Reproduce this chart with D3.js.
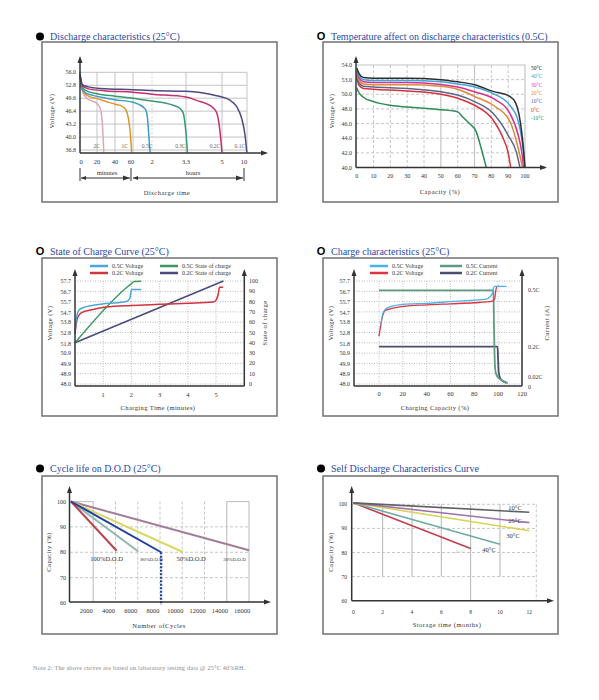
<!DOCTYPE html>
<html>
<head>
<meta charset="utf-8">
<script src="https://cdn.jsdelivr.net/npm/d3@7"></script>
<style>
body { margin: 0; background: #fff; }
text { font-family: "Liberation Serif", "DejaVu Serif", serif; }
</style>
</head>
<body>
<div id="chartDiv"></div>
<script>
// ---- Discharge characteristics (25C) : minutes vs volts
var dischargeTickMin = [0, 20, 40, 60, 120, 198, 300, 600];
var dischargeTickLabels = ["0", "20", "40", "60", "2", "3.3", "5", "10"];
var dischargeVoltTicks = [36.8, 40.0, 43.2, 46.4, 49.6, 52.8, 56.0];
var dischargeRates = ["2C", "1C", "0.5C", "0.3C", "0.2C", "0.1C"];
var discharge2C = [[0, 55.8], [1, 53.0], [3, 51.2], [8, 49.6], [14, 48.9], [20, 48.3], [23.5, 47.1], [25.5, 44.6], [26.7, 40.5], [27.5, 36.2]];
var discharge1C = [[0, 55.4], [2, 52.2], [5, 50.9], [10, 50.1], [20, 49.5], [30, 48.8], [40, 48.1], [48, 47.6], [52, 46.8], [55, 44.5], [57, 41.0], [58.5, 36.2]];
var discharge05C = [[0, 56.2], [2, 52.2], [6, 51.0], [15, 50.3], [30, 49.6], [40, 49.2], [60, 48.6], [80, 48.0], [95, 47.2], [102, 46.4], [106, 44.5], [109, 41.5], [112, 38.0], [114, 36.2]];
var discharge03C = [[0, 55.6], [2, 52.6], [6, 51.6], [20, 50.7], [40, 50.1], [60, 49.6], [90, 49.2], [120, 48.9], [150, 48.4], [170, 47.8], [185, 47.0], [192, 45.8], [196, 43.0], [199, 40.0], [201, 37.5], [202, 36.2]];
var discharge02C = [[0, 55.0], [3, 52.6], [10, 51.9], [30, 51.4], [60, 51.1], [120, 50.6], [198, 49.9], [230, 49.0], [257, 48.2], [275, 47.2], [285, 46.0], [292, 43.0], [296, 40.0], [299, 37.2], [300, 36.2]];
var discharge01C = [[0, 55.4], [3, 52.9], [10, 52.4], [24, 52.0], [60, 51.7], [114, 51.5], [198, 51.3], [238, 51.0], [285, 50.2], [396, 49.1], [476, 47.5], [536, 44.6], [576, 40.5], [598, 36.2]];

// ---- Temperature affect on discharge (0.5C) : capacity % vs volts
var tempLabels = ["50°C", "40°C", "30°C", "20°C", "10°C", "0°C", "-10°C"];
var tempVoltTicks = [40, 42, 44, 46, 48, 50, 52, 54];
var tempVoltLabels = ["40.0", "42.0", "44.0", "46.0", "48.0", "50.0", "53.0", "54.0"];
var tempCapTicks = [0, 10, 20, 30, 40, 50, 60, 70, 80, 90, 100];
var temp50 = [[0, 53.6], [1.5, 52.8], [4, 52.3], [10, 52.2], [30, 52.2], [50, 52.0], [60, 51.7], [70, 51.3], [81, 50.4], [91, 49.7], [94.5, 48.8], [96.5, 47.2], [98, 44.9], [99.2, 42.3], [100, 40]];
var temp40 = [[0, 53.3], [1.5, 52.5], [4, 52.0], [10, 51.9], [30, 51.9], [50, 51.7], [60, 51.4], [70, 51.0], [81, 50.1], [91, 48.5], [96, 46.3], [98, 44.0], [99, 42.2], [99.8, 40]];
var temp30 = [[0, 53.0], [1.5, 52.2], [4, 51.7], [10, 51.6], [30, 51.6], [50, 51.35], [60, 51.0], [70, 50.35], [81, 49.45], [91, 47.4], [96, 44.4], [98, 42.2], [99.2, 40]];
var temp20 = [[0, 52.8], [1.5, 51.9], [4, 51.4], [10, 51.3], [30, 51.3], [50, 51.1], [60, 50.7], [70, 49.7], [81, 48.5], [91, 46.3], [96, 42.6], [98.5, 40]];
var temp10 = [[0, 52.5], [1.5, 51.5], [4, 51.1], [10, 51.0], [30, 50.8], [50, 50.35], [60, 49.9], [70, 49.0], [81, 47.4], [90, 44.4], [95, 42.0], [97, 40]];
var temp0 = [[0, 52.2], [1.5, 51.2], [4, 50.8], [10, 50.7], [30, 50.45], [50, 50.0], [60, 49.45], [70, 48.5], [81, 46.5], [87, 44.0], [90, 42.0], [91.5, 40]];
var tempM10 = [[0, 50.9], [1, 50.35], [4, 49.6], [10, 49.0], [20, 48.5], [30, 48.25], [40, 48.1], [50, 47.9], [60, 47.6], [63, 46.9], [67, 46.0], [71, 44.9], [74, 42.6], [77, 40]];

// ---- shared voltage ticks for the two charge charts
var chargeVoltLabels = [48.0, 48.9, 49.9, 50.9, 51.8, 52.8, 53.8, 54.7, 55.7, 56.7, 57.7];

// ---- State of charge curve (25C) : minutes
var socTimeTicks = [1, 2, 3, 4, 5];
var socPctTicks = [0, 10, 20, 30, 40, 50, 60, 70, 80, 90, 100];
var socSeriesNames = ["0.5C Voltage", "0.2C Voltage", "0.5C State of charge", "0.2C State of charge"];
var soc05Voltage = [[0, 52.7], [0.03, 53.8], [0.08, 54.6], [0.15, 55.0], [0.3, 55.2], [0.6, 55.4], [1.0, 55.55], [1.5, 55.65], [1.85, 55.8], [1.95, 56.1], [2.0, 56.9], [2.35, 56.9]];
var soc02Voltage = [[0, 52.7], [0.05, 53.8], [0.12, 54.4], [0.25, 54.75], [0.6, 55.0], [1.1, 55.25], [2, 55.4], [3, 55.5], [4, 55.6], [4.9, 55.72], [5.0, 55.9], [5.08, 56.5], [5.12, 57.1], [5.25, 57.1]];
var soc05Charge = [[0, 40], [1.8, 93], [2.0, 97.5], [2.1, 99.5], [2.35, 99.7]];
var soc02Charge = [[0, 40], [5.26, 100]];

// ---- Charge characteristics (25C) : capacity %
var chgCapTicks = [0, 20, 40, 60, 80, 100, 120];
var chgCurrentTicks = [0, 0.02, 0.2, 0.5];
var chgCurrentLabels = ["0", "0.02C", "0.2C", "0.5C"];
var chgSeriesNames = ["0.5C Voltage", "0.2C Voltage", "0.5C Current", "0.2C Current"];
var chg05Voltage = [[1.5, 53.5], [3, 54.5], [5, 55.0], [10, 55.3], [20, 55.5], [40, 55.6], [60, 55.75], [80, 55.9], [90, 56.0], [93, 56.2], [95, 56.5], [96, 57.0], [97, 57.2], [107, 57.2]];
var chg02Voltage = [[0, 52.5], [1.5, 53.6], [3, 54.4], [5, 54.9], [10, 55.1], [20, 55.3], [40, 55.45], [60, 55.55], [80, 55.65], [95, 55.8], [97, 56.0], [98, 56.8], [99, 57.2], [101, 57.2]];
var chg05Current = [[0, 0.5], [96, 0.5], [96.5, 0.3], [97, 0.15], [97.5, 0.08], [98.5, 0.05], [100, 0.035], [103, 0.02], [106, 0.01], [108, 0.005]];
var chg02Current = [[0, 0.2], [99.5, 0.2], [100, 0.12], [100.5, 0.06], [101.5, 0.035], [103, 0.02], [105, 0.012], [107, 0.006]];

// ---- Cycle life on D.O.D (25C)
var cycleTicks = [2000, 4000, 6000, 8000, 10000, 12000, 14000, 16000];
var cycleCapTicks = [60, 70, 80, 90, 100];
var dodLabels = ["100%D.O.D", "80%D.O.D", "50%D.O.D", "30%D.O.D"];
var dod100 = [[0, 100], [4100, 80.6]];
var dod80 = [[0, 100], [6050, 80.3]];
var dod70 = [[0, 100], [8100, 80.0]];
var dod50 = [[0, 100], [10050, 80.1]];
var dod30 = [[0, 100], [16000, 80.8]];

// ---- Self discharge : months
var storageTicks = [0, 2, 4, 6, 8, 10, 12];
var storageCapTicks = [60, 70, 80, 90, 100];
var storageLabels = ["10°C", "25°C", "30°C", "40°C", "45°C"];
var sd10 = [[0, 100.6], [12, 96.7]];
var sd25 = [[0, 100.6], [12, 92.4]];
var sd30 = [[0, 100.6], [12, 89.0]];
var sd40 = [[0, 100.6], [10, 83.4]];
var sd45 = [[0, 100.6], [8, 81.7]];

var footNote = "Note 2: The above curves are based on laboratory testing data @ 25°C 40%RH.";

var axisColor = "#333";
var gridColor = "#b9b9b9";
var titleColor = "#2a4aa6";

var svg = d3.select("#chartDiv").append("svg")
	.attr("width", 599)
	.attr("height", 700)
	.style("background", "#fff");

//helpers
function frame(x0, y0, x1, y1) {
	svg.append("rect")
		.attr("x", x0).attr("y", y0)
		.attr("width", x1 - x0).attr("height", y1 - y0)
		.attr("fill", "none")
		.attr("stroke", "#707070")
		.attr("stroke-width", 1.5);
}

function title(x, y, marker, str) {
	if (marker == "dot") {
		svg.append("circle").attr("cx", x).attr("cy", y - 3.5).attr("r", 4).attr("fill", "#000");
	} else {
		svg.append("text").attr("x", x).attr("y", y)
			.attr("text-anchor", "middle")
			.style("font-family", "'Liberation Sans', Arial, sans-serif")
			.style("font-weight", "bold")
			.style("font-size", "11px")
			.text("O");
	}
	svg.append("text").attr("x", x + 10).attr("y", y)
		.style("font-size", "10px")
		.attr("fill", titleColor)
		.text(str);
}

function label(x, y, str, size, anchor, color) {
	return svg.append("text").attr("x", x).attr("y", y)
		.attr("text-anchor", anchor || "middle")
		.style("font-size", (size || 6) + "px")
		.attr("fill", color || "#333")
		.text(str);
}

function vLabel(x, y, str) {
	svg.append("text")
		.attr("transform", "translate(" + x + "," + y + ") rotate(-90)")
		.attr("text-anchor", "middle")
		.style("font-size", "6.5px")
		.style("letter-spacing", "0.4px")
		.attr("fill", "#333")
		.text(str);
}

function seg(x1, y1, x2, y2, color, w, dash) {
	svg.append("line")
		.attr("x1", x1).attr("y1", y1).attr("x2", x2).attr("y2", y2)
		.attr("stroke", color).attr("stroke-width", w)
		.attr("stroke-dasharray", dash || null);
}

function arrowUp(x, y) {
	svg.append("path").attr("d", "M" + (x - 2.5) + "," + (y + 7) + "L" + x + "," + y + "L" + (x + 2.5) + "," + (y + 7) + "Z").attr("fill", axisColor);
}
function arrowRight(x, y) {
	svg.append("path").attr("d", "M" + (x - 7) + "," + (y - 2.5) + "L" + x + "," + y + "L" + (x - 7) + "," + (y + 2.5) + "Z").attr("fill", axisColor);
}
function arrowLeft(x, y) {
	svg.append("path").attr("d", "M" + (x + 5) + "," + (y - 2) + "L" + x + "," + y + "L" + (x + 5) + "," + (y + 2) + "Z").attr("fill", axisColor);
}

function curve(pts, xs, ys, color, w, kind) {
	svg.append("path").datum(pts)
		.attr("fill", "none")
		.attr("stroke", color)
		.attr("stroke-width", w)
		.attr("stroke-linejoin", "round")
		.attr("d", d3.line()
			.x(function(d) { return xs(d[0]); })
			.y(function(d) { return ys(d[1]); })
			.curve(kind || d3.curveMonotoneX));
}

// ================= Panel 1
frame(42, 42, 277, 202);
title(40, 40, "dot", "Discharge characteristics (25°C)");

var x1 = d3.scaleLinear().domain(dischargeTickMin).range([80, 97, 115, 133, 152, 186, 222, 247]);
var y1 = d3.scaleLinear().domain([36.8, 56.0]).range([150, 72.3]);

dischargeVoltTicks.forEach(function(v) {
	seg(80, y1(v), x1(600), y1(v), "#c4c4c4", 1);
	label(76, y1(v) + 2, v.toFixed(1), 6, "end");
});
dischargeTickMin.forEach(function(m, i) {
	if (m > 0) seg(x1(m), y1(56), x1(m), 153, m == 120 ? "#cfcfcf" : "#c4c4c4", 1, m == 120 ? "2,2" : null);
	label(x1(m) + (i == 0 ? 1 : i == 3 ? -2 : i == 7 ? -3 : 0), 164, dischargeTickLabels[i], 6.5);
});

var dischargeColors = ["#dcaab2", "#e0952a", "#3d9bc6", "#3a9a72", "#c2306e", "#4c4a80"];
[discharge2C, discharge1C, discharge05C, discharge03C, discharge02C, discharge01C].forEach(function(s, i) {
	curve(s, x1, y1, dischargeColors[i], 1.5);
	var last = s[s.length - 1];
	label(x1(last[0]) - (i == 2 ? 3 : 7), 148, dischargeRates[i], 5.5, "middle", "#666");
});

seg(80, 153, 266, 153, axisColor, 1.5);
seg(80, 153, 80, 58, axisColor, 1.5);
arrowUp(80, 56);
arrowRight(268, 153);

// minutes / hours bracket
seg(80, 168, 80, 181, axisColor, 1);
seg(131, 168, 131, 181, axisColor, 1);
seg(244, 168, 244, 181, axisColor, 1);
seg(81, 178, 130, 178, axisColor, 1);
seg(133, 178, 243, 178, axisColor, 1);
arrowLeft(81, 178);
arrowRight(130, 178);
arrowLeft(133, 178);
arrowRight(243, 178);
label(107, 175, "minutes", 6.5);
label(193, 175, "hours", 6.5);
label(167, 195, "Discharge time", 6.5).style("letter-spacing", "0.5px");
vLabel(54, 111, "Voltage (V)");

// ================= Panel 2
frame(323, 42, 558, 202);
title(321, 40, "O", "Temperature affect on discharge characteristics (0.5C)");

var x2 = d3.scaleLinear().domain([0, 100]).range([356.7, 525]);
var y2 = d3.scaleLinear().domain([40, 54]).range([167.5, 65]);

tempVoltTicks.forEach(function(v, i) {
	if (v == 54) seg(356, y2(v), x2(100), y2(v), "#c4c4c4", 1.2);
	else if (v > 40) seg(356, y2(v), x2(100), y2(v), gridColor, 0.8, "3,2");
	label(352, y2(v) + 2, tempVoltLabels[i], 6, "end");
});
tempCapTicks.forEach(function(c) {
	if (c > 0) {
		var solid = (c == 50 || c == 70 || c == 100);
		seg(x2(c), y2(54), x2(c), y2(40), solid ? "#c4c4c4" : gridColor, solid ? 1.2 : 0.8, solid ? null : "3,2");
	}
	label(x2(c), 178, c, 6);
});

var tempColors = ["#2e2e2e", "#3ea4d8", "#d6318f", "#dc8a3c", "#5e6488", "#d8323c", "#2f8c55"];
var tempLabelColors = ["#222", "#3ea4d8", "#d63fbd", "#e08a30", "#5a5ab8", "#e03030", "#2f8c55"];
[tempM10, temp0, temp10, temp20, temp30, temp40, temp50].forEach(function(s, i) {
	curve(s, x2, y2, tempColors[6 - i], 1.5);
});
tempLabels.forEach(function(t, i) {
	label(531, 70 + i * 8.3, t, 5.5, "start", tempLabelColors[i]);
});

seg(356, 167.5, 545, 167.5, axisColor, 1.5);
seg(356, 167.5, 356, 58, axisColor, 1.5);
arrowUp(356, 56);
arrowRight(547, 167.5);
label(440, 194, "Capacity (%)", 6.5).style("letter-spacing", "0.5px");
vLabel(334, 111, "Voltage (V)");

// ================= Panel 3
frame(42, 258, 277, 416);
title(40, 254.5, "O", "State of Charge Curve (25°C)");

var x3 = d3.scaleLinear().domain([0, 6]).range([75, 244.3]);
var y3v = d3.scaleLinear().domain([48.0, 57.7]).range([384, 281]);
var y3s = d3.scaleLinear().domain([0, 100]).range([384, 281]);

socPctTicks.forEach(function(p) {
	seg(75, y3s(p), 244, y3s(p), "#a8a8a8", 0.8, "1,1.5");
	label(249, y3s(p) + 2, p, 6, "start");
});
chargeVoltLabels.forEach(function(v) {
	label(71, y3v(v) + 2, v.toFixed(1), 6, "end");
});
socTimeTicks.forEach(function(t) {
	seg(x3(t), y3s(100), x3(t), 384, "#b0b0b0", 0.8, "1,1.5");
	label(x3(t), 397, t, 6.5);
});

var socColors = ["#4aa8d8", "#d0343f", "#3a9a62", "#4a4a7c"];
curve(soc02Charge, x3, y3s, socColors[3], 1.5, d3.curveLinear);
curve(soc05Charge, x3, y3s, socColors[2], 1.5);
curve(soc02Voltage, x3, y3v, socColors[1], 1.5);
curve(soc05Voltage, x3, y3v, socColors[0], 1.5);

socSeriesNames.forEach(function(n, i) {
	var lx = i < 2 ? 90 : 160;
	var ly = i % 2 == 0 ? 266 : 273;
	seg(lx, ly, lx + 18, ly, socColors[i], 2.5);
	label(lx + 22, ly + 2, n, 6, "start");
});

seg(75, 386, 244.3, 386, axisColor, 1.5);
seg(75, 386, 75, 272, axisColor, 1.5);
seg(244.3, 386, 244.3, 272, axisColor, 1.5);
arrowUp(75, 269);
arrowUp(244.3, 269);
label(158, 410, "Charging Time (minutes)", 6.5).style("letter-spacing", "0.4px");
vLabel(52, 323, "Voltage (V)");
vLabel(267, 323, "State of charge");

// ================= Panel 4
frame(323, 258, 558, 416);
title(321, 254.5, "O", "Charge characteristics (25°C)");

var x4 = d3.scaleLinear().domain([0, 120]).range([379, 522]);
var y4v = d3.scaleLinear().domain([48.0, 57.7]).range([384, 281]);
var y4c = d3.scaleLinear().domain([0, 0.55]).range([384, 281]);

socPctTicks.forEach(function(p) {
	seg(354, y3s(p), 522, y3s(p), "#a8a8a8", 0.8, "1,1.5");
});
chargeVoltLabels.forEach(function(v) {
	label(350, y4v(v) + 2, v.toFixed(1), 6, "end");
});
chgCapTicks.forEach(function(c) {
	if (c < 120) seg(x4(c), y4v(57.7), x4(c), 384, "#b0b0b0", 0.8, "1,1.5");
	label(x4(c), 396, c, 6.5);
});
chgCurrentTicks.forEach(function(c, i) {
	var dy = c == 0 ? 5 : c == 0.02 ? -1 : 2;
	label(528, y4c(c) + dy, chgCurrentLabels[i], 6, "start");
});

var chgColors = ["#4ab2ea", "#e0343f", "#5f9a7e", "#4a4e6e"];
curve(chg02Current, x4, y4c, chgColors[3], 1.8);
curve(chg05Current, x4, y4c, chgColors[2], 1.8);
curve(chg02Voltage, x4, y4v, chgColors[1], 1.3);
curve(chg05Voltage, x4, y4v, chgColors[0], 1.3);

chgSeriesNames.forEach(function(n, i) {
	var lx = i < 2 ? 370 : 440;
	var ly = i % 2 == 0 ? 266 : 273;
	seg(lx, ly, lx + (i < 2 ? 18 : 22), ly, chgColors[i], 2.5);
	label(lx + (i < 2 ? 22 : 26), ly + 2, n, 6, "start");
});

seg(354, 386, 522, 386, axisColor, 1.5);
seg(354, 386, 354, 272, axisColor, 1.5);
seg(522, 386, 522, 272, axisColor, 1.5);
arrowUp(354, 269);
arrowUp(522, 269);
label(435, 410, "Charging Capacity (%)", 6.5).style("letter-spacing", "0.4px");
vLabel(333, 323, "Voltage (V)");
vLabel(549, 323, "Current (A)");

// ================= Panel 5
frame(42, 476, 277, 634);
title(40, 472, "dot", "Cycle life on D.O.D (25°C)");

var x5 = d3.scaleLinear().domain([0, 16000]).range([71, 249]);
var y5 = d3.scaleLinear().domain([60, 100]).range([603, 501.5]);

cycleCapTicks.forEach(function(c) {
	if (c > 60 && c < 100) seg(70, y5(c), x5(16000), y5(c), gridColor, 0.8, "3,2");
	label(66, y5(c) + 2, c, 6, "end");
});
seg(70, y5(100), x5(2000), y5(100), "#c4c4c4", 1.2);
seg(x5(14000), y5(100), x5(16000), y5(100), "#c4c4c4", 1.2);
cycleTicks.forEach(function(c) {
	var solid = (c == 2000 || c == 14000 || c == 16000);
	seg(x5(c), y5(100), x5(c), 602, solid ? "#c4c4c4" : gridColor, solid ? 1.2 : 0.8, solid ? null : "3,2");
	label(x5(c) - 7, 613, c, 6.5);
});

var dodColors = ["#b8434f", "#8fb8ae", "#1f3f9e", "#d9d865", "#a27e96"];
curve(dod30, x5, y5, dodColors[4], 2, d3.curveLinear);
curve(dod50, x5, y5, dodColors[3], 2, d3.curveLinear);
curve(dod80, x5, y5, dodColors[1], 2, d3.curveLinear);
curve(dod100, x5, y5, dodColors[0], 2, d3.curveLinear);
curve(dod70, x5, y5, dodColors[2], 2, d3.curveLinear);
seg(x5(8100), y5(80), x5(8100), 605, dodColors[2], 2.2, "2,1.5");

label(x5(3200), 561, dodLabels[0], 6.5);
label(x5(7250), 561, dodLabels[1], 5);
label(x5(10800), 561, dodLabels[2], 6.5);
label(x5(14700), 561, dodLabels[3], 5);

seg(69.5, 602, 268, 602, axisColor, 1.5);
seg(69.5, 602, 69.5, 489, axisColor, 1.5);
arrowUp(69.5, 486);
arrowRight(271, 602);
label(159, 628, "Number ofCycles", 6.5).style("letter-spacing", "0.5px");
vLabel(51, 552, "Capacity (%)");

// ================= Panel 6
frame(323, 476, 558, 634);
title(321, 472, "dot", "Self Discharge Characteristics Curve");

var x6 = d3.scaleLinear().domain([0, 12]).range([353.3, 529.3]);
var y6 = d3.scaleLinear().domain([60, 100]).range([600.7, 504.3]);
var right6 = x6(12) + 7;

storageCapTicks.forEach(function(c) {
	if (c > 60) seg(352, y6(c), right6, y6(c), gridColor, 0.8, "3,2");
	label(347, y6(c) + 2, c, 5.5, "end");
});
[2, 4, 6, 8, 10].forEach(function(m) {
	seg(x6(m), y6(100), x6(m), m == 8 ? 600.7 : y6(70), "#b4b4b4", 1);
});
seg(right6, y6(100), right6, 600.7, gridColor, 0.8, "3,2");
storageTicks.forEach(function(m) {
	label(x6(m), 614, m, 5.5);
});

var sdColors = ["#616161", "#a272aa", "#d8d257", "#6eaaa8", "#c0404f"];
[sd45, sd40, sd30, sd25, sd10].forEach(function(s, i) {
	curve(s, x6, y6, sdColors[4 - i], 1.6, d3.curveLinear);
});
label(515, 510, storageLabels[0], 6.5);
label(515, 523, storageLabels[1], 6.5);
label(513, 538, storageLabels[2], 6.5);
label(489, 552, storageLabels[3], 6.5);
label(460, 553, storageLabels[4], 5, "middle", "#c8c8c8");

seg(351.7, 600.7, 551, 600.7, axisColor, 1.5);
seg(351.7, 600.7, 351.7, 489, axisColor, 1.5);
arrowUp(351.7, 486);
arrowRight(554, 600.7);
label(447, 627, "Storage time (months)", 6.5).style("letter-spacing", "0.5px");
vLabel(333, 552, "Capacity (%)");

// footer
label(33, 670, footNote, 6.2, "start", "#8a8a8a").style("letter-spacing", "0.2px");
</script>
</body>
</html>
